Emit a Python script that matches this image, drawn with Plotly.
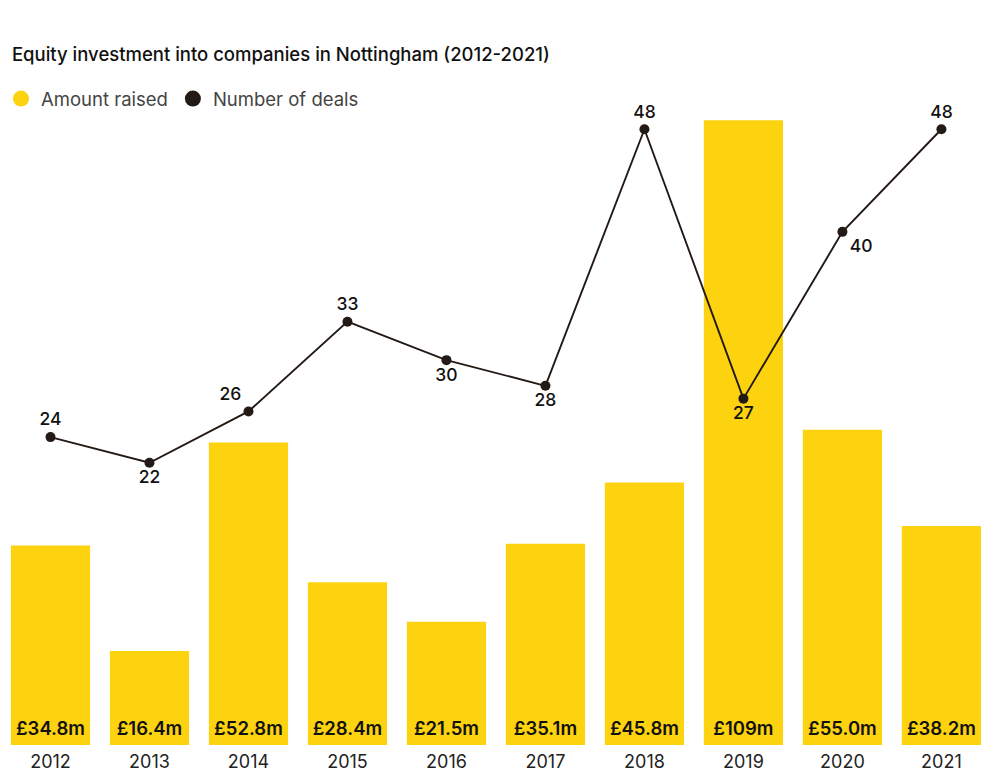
import plotly.graph_objects as go

years = ["2012", "2013", "2014", "2015", "2016", "2017", "2018", "2019", "2020", "2021"]
amount_raised = [34.8, 16.4, 52.8, 28.4, 21.5, 35.1, 45.8, 109, 55.0, 38.2]
number_of_deals = [24, 22, 26, 33, 30, 28, 48, 27, 40, 48]
deal_label_pos = ["top center", "bottom center", "top left", "top center", "bottom center",
                  "bottom center", "top center", "bottom center", "bottom right", "top center"]

yellow = "#FDD20F"
dark = "#231A15"
font = "Inter"

bar_text = [f"£{v:.0f}m" if v >= 100 else f"£{v:.1f}m" for v in amount_raised]

W, H = 982, 774
y1_top = 110.8
label_offset = 2.6  # in £m, keeps the amount labels ~16px above the baseline

fig = go.Figure()

fig.add_trace(go.Bar(
    x=years,
    y=amount_raised,
    marker=dict(color=yellow, line=dict(width=0)),
    width=0.8,
    showlegend=False,
    hoverinfo="x+y",
    yaxis="y",
))

# amount labels near the bottom of each bar
fig.add_trace(go.Scatter(
    x=years,
    y=[label_offset] * len(years),
    mode="text",
    text=bar_text,
    textposition="middle center",
    textfont=dict(family=font, size=18.5, color="#111111", weight=600),
    showlegend=False,
    hoverinfo="skip",
    cliponaxis=False,
    yaxis="y",
))

fig.add_trace(go.Scatter(
    x=years,
    y=number_of_deals,
    mode="lines+markers+text",
    text=[str(v) for v in number_of_deals],
    textposition=deal_label_pos,
    textfont=dict(family=font, size=17.5, color="#111111", weight=500),
    line=dict(color=dark, width=1.9),
    marker=dict(color=dark, size=10),
    showlegend=False,
    cliponaxis=False,
    yaxis="y2",
))

# legend-only entries so the swatches are circles
fig.add_trace(go.Scatter(x=[years[0]], y=[None], mode="markers", name="Amount raised",
                         marker=dict(color=yellow, size=18), yaxis="y"))
fig.add_trace(go.Scatter(x=[years[0]], y=[None], mode="markers", name="Number of deals",
                         marker=dict(color=dark, size=18), yaxis="y"))

fig.update_layout(
    width=W,
    height=H,
    paper_bgcolor="white",
    plot_bgcolor="white",
    margin=dict(l=0, r=0, t=110, b=29, autoexpand=False),
    title=dict(
        text="Equity investment into companies in Nottingham (2012-2021)",
        x=0.0122, xanchor="left", y=0.929, yanchor="middle",
        font=dict(family=font, size=18.5, color="#111111", weight=500),
    ),
    legend=dict(
        orientation="h",
        x=0.001, xanchor="left",
        y=1.0173, yanchor="middle",
        font=dict(family=font, size=18.5, color="#444444"),
        itemsizing="trace",
        itemwidth=30,
        traceorder="normal",
    ),
    xaxis=dict(
        type="category",
        range=[-0.51, 9.41],
        showgrid=False, zeroline=False, showline=False,
        ticks="", ticklabelstandoff=4,
        tickfont=dict(family=font, size=18, color="#222222"),
    ),
    yaxis=dict(range=[0, y1_top], visible=False, showgrid=False, zeroline=False),
    yaxis2=dict(range=[0, 49.5], visible=False, showgrid=False, zeroline=False,
                overlaying="y", side="right"),
    bargap=0.2,
)

# drop the default page margin so the figure fills the window exactly
fig.write_html("out.html",
               config={"displayModeBar": False},
               post_script="document.body.style.margin='0';document.body.style.overflow='hidden';")
